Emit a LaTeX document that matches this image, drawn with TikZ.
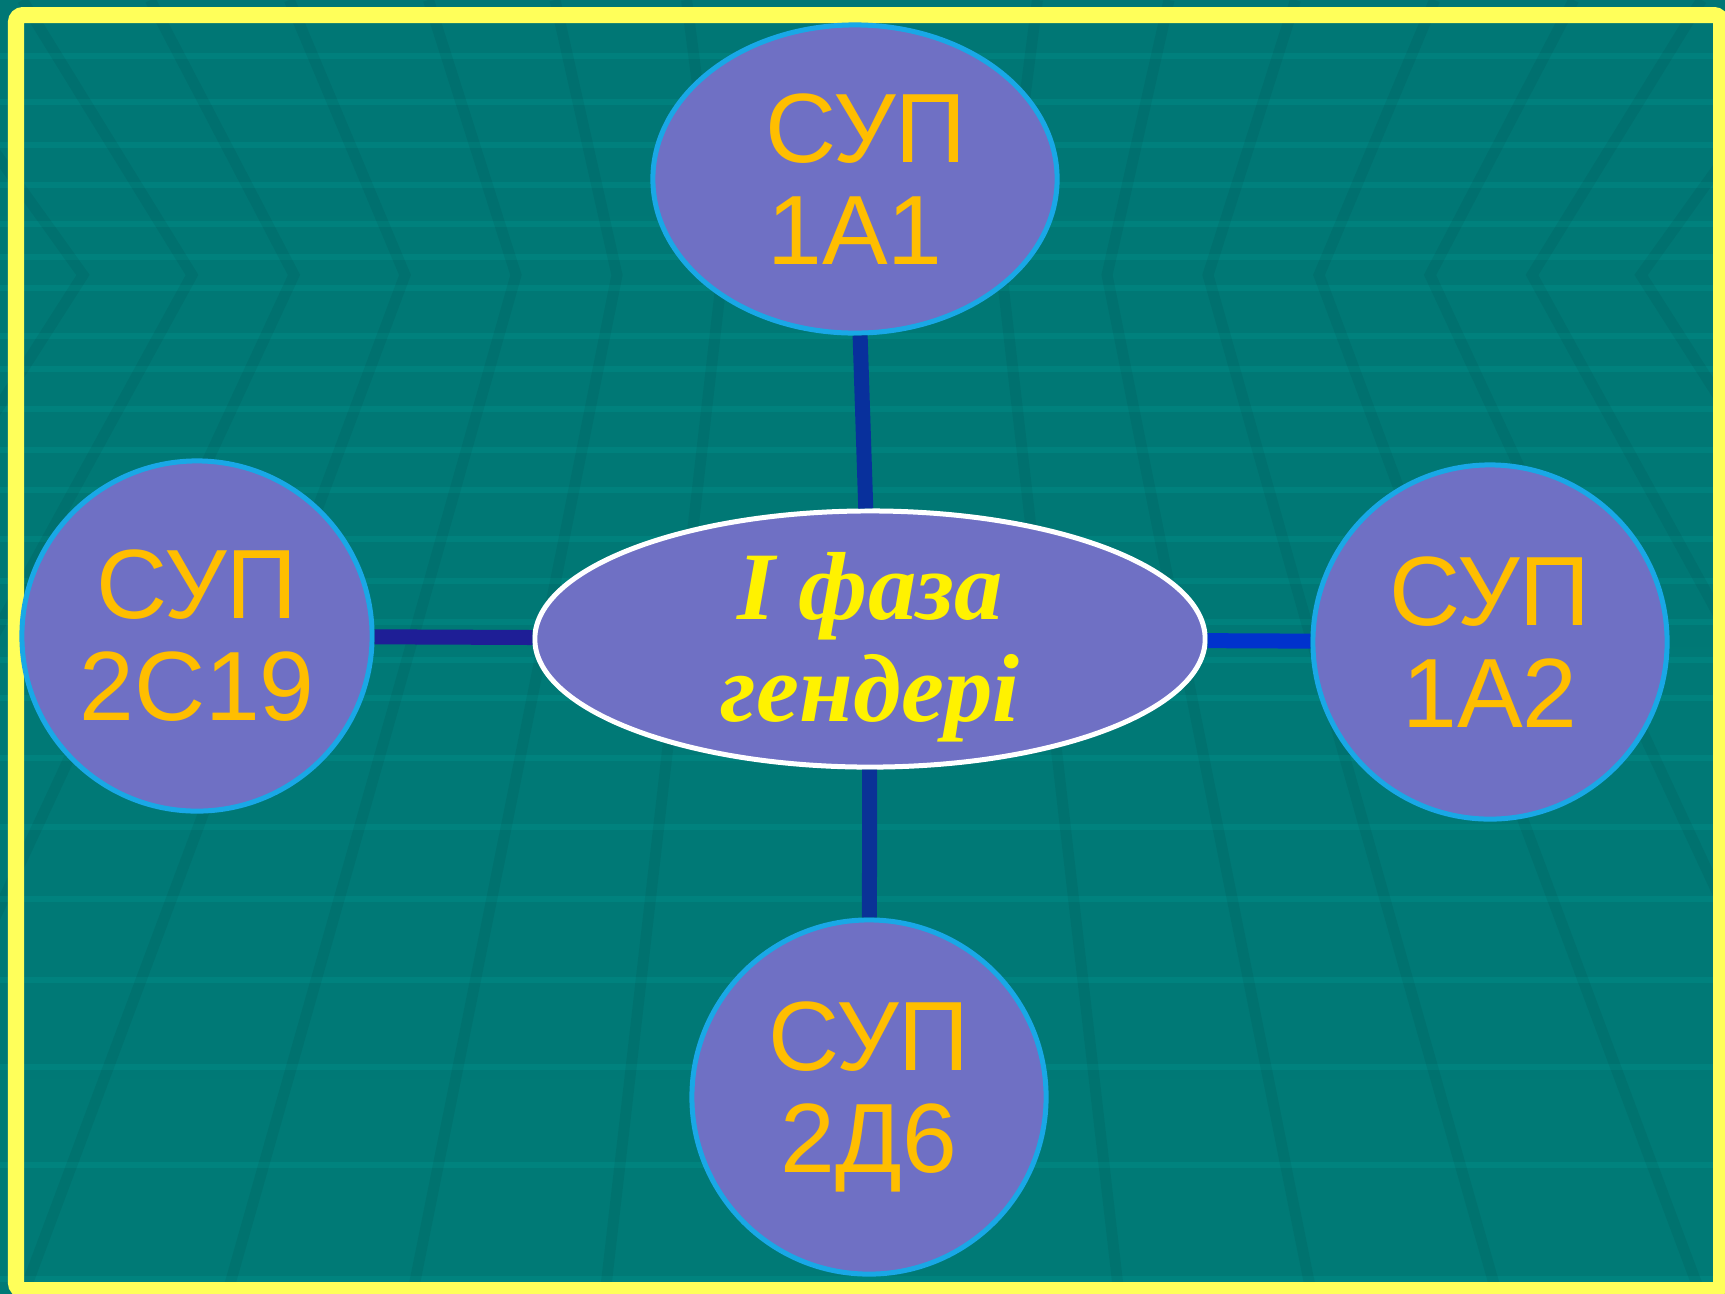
\documentclass[tikz,border=0pt]{standalone}
\usepackage{fontspec}
\setmainfont{Liberation Serif}
\newfontfamily\supfont{Liberation Sans}
\usepackage{tikz}
\usetikzlibrary{shapes.geometric, positioning}
\definecolor{bgtop}{RGB}{0,119,117}
\definecolor{bgmid}{RGB}{0,88,86}
\definecolor{bgbot}{RGB}{0,122,118}
\definecolor{gridlight}{RGB}{0,200,190}
\definecolor{nodefill}{RGB}{111,112,196}
\definecolor{nodeline}{RGB}{25,168,230}
\definecolor{suptext}{RGB}{255,190,0}
\definecolor{frameyellow}{RGB}{255,255,90}
\definecolor{linkA}{RGB}{8,48,156}
\definecolor{linkB}{RGB}{30,30,150}
\definecolor{linkC}{RGB}{0,50,205}
\definecolor{linkD}{RGB}{10,50,150}
\tikzset{
    semithick,
    gene/.style = {circle, draw=nodeline, fill=nodefill, line width=0.05cm,
                   minimum size=3.54cm, inner sep=0pt, text=suptext, align=center,
                   font=\supfont\fontsize{28}{29}\selectfont},
    phase/.style = {ellipse, draw=white, fill=nodefill, line width=0.05cm,
                    minimum width=6.7cm, minimum height=2.56cm, inner xsep=0pt,
                    inner ysep=-0.2cm, text=yellow, align=center,
                    font=\fontsize{27.5}{29}\selectfont\bfseries\itshape},
    link/.style = {line width=0.15cm},
    hline/.style = {gridlight, opacity=0.12, line width=0.06cm},
    band/.style = {black, opacity=0.05, line width=0.11cm}
    }

\begin{document}
\begin{tikzpicture}[
      x = 0.01cm, % one pixel
      y = -0.01cm % pixels count downwards
    ]
    \useasboundingbox (0,0) rectangle (1725,1293);

    % background
    \shade[top color=bgtop, middle color=bgmid, bottom color=bgbot] (0,0) rectangle (1725,1293);
    \begin{scope}
      \clip (0,0) rectangle (1725,1293);
      \foreach \y in {56,102,145,185,224,257,288,336,369,409,450,490,539,581,622,660,698,758,827,899,980,1067,1165,1279}
        \draw[hline] (0,\y) -- (1725,\y);
      \foreach \d in {140,245,346,457,568,670,779} {
        \draw[band] ({862-1.253*\d},0) -- ({862-\d},275) -- ({862-1.834*\d},1293);
        \draw[band] ({862+1.253*\d},0) -- ({862+\d},275) -- ({862+1.834*\d},1293);
      }
    \end{scope}
    \draw[frameyellow, line width=0.16cm, rounded corners=2pt] (16,15) rectangle (1721,1290);

    \node[gene, ellipse, minimum width=4.04cm, minimum height=3.08cm] (1) at (855,179) {\hspace*{0.22cm}СУП\\1A1};
    \node[gene, minimum size=3.5cm] (2) at (197,636) {СУП\\2C19};
    \node[phase] (3) at (870,639) {\rule{0pt}{23.5pt}І фаза\\гендері};
    \node[gene] (4) at (1490,642) {СУП\\1A2};
    \node[gene] (5) at (869,1097) {СУП\\2Д6};

    \path (1) edge[link, linkA] (3);
    \path (2) edge[link, linkB] (3);
    \path (3) edge[link, linkC] (4);
    \path (3) edge[link, linkD] (5);
\end{tikzpicture}
\end{document}
